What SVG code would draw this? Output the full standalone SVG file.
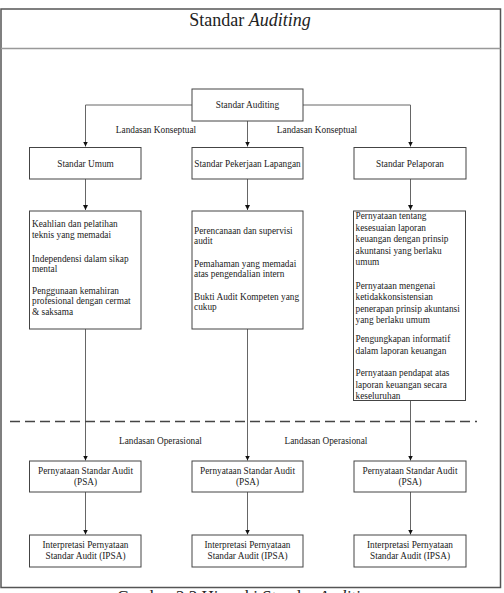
<svg xmlns="http://www.w3.org/2000/svg" width="504" height="593" viewBox="0 0 504 593">
<defs>
<style>
text{font-family:'Liberation Serif','Times New Roman',serif;fill:#222;}
.t{font-size:9.3px;}
.c{text-anchor:middle;}
.box{fill:#fff;stroke:#444;stroke-width:1;}
.ln{fill:none;stroke:#666;stroke-width:1;}
</style>
<marker id="ah" markerUnits="userSpaceOnUse" markerWidth="6" markerHeight="6" refX="5" refY="3" orient="auto">
<path d="M0,0.5 L5,3 L0,5.5 Z" fill="#111"/>
</marker>
</defs>
<rect x="0" y="0" width="504" height="593" fill="#fff"/>
<g font-family="Liberation Serif">
<g id="frame">
<rect x="1" y="9" width="499.5" height="578.5" fill="none" stroke="#555" stroke-width="1.5"/>
<line x1="1" y1="48.5" x2="500.5" y2="48.5" stroke="#999" stroke-width="1.5"/>
<text x="250" y="26" class="c" style="font-family:'Liberation Serif',serif;font-size:18px">Standar <tspan font-style="italic">Auditing</tspan></text>
</g>
<g id="connectors">
<polyline class="ln" points="192,105 85.5,105 85.5,146.5" marker-end="url(#ah)"/>
<polyline class="ln" points="303,105 410.5,105 410.5,146.5" marker-end="url(#ah)"/>
<line class="ln" x1="247.5" y1="121" x2="247.5" y2="146.5" marker-end="url(#ah)"/>
<line class="ln" x1="85.5" y1="179" x2="85.5" y2="210" marker-end="url(#ah)"/>
<line class="ln" x1="247.5" y1="179" x2="247.5" y2="210" marker-end="url(#ah)"/>
<line class="ln" x1="410.5" y1="179" x2="410.5" y2="210" marker-end="url(#ah)"/>
<line class="ln" x1="85.5" y1="329" x2="85.5" y2="460.5" marker-end="url(#ah)"/>
<line class="ln" x1="247.5" y1="329" x2="247.5" y2="460.5" marker-end="url(#ah)"/>
<line class="ln" x1="410.5" y1="400.5" x2="410.5" y2="460.5" marker-end="url(#ah)"/>
<line class="ln" x1="85.5" y1="492" x2="85.5" y2="534.5" marker-end="url(#ah)"/>
<line class="ln" x1="247.5" y1="492" x2="247.5" y2="534.5" marker-end="url(#ah)"/>
<line class="ln" x1="410.5" y1="492" x2="410.5" y2="534.5" marker-end="url(#ah)"/>
<line x1="10" y1="421.5" x2="477" y2="421.5" stroke="#444" stroke-width="1.3" stroke-dasharray="10,5"/>
<text x="156" y="133" class="t c">Landasan Konseptual</text>
<text x="317" y="133" class="t c">Landasan Konseptual</text>
<text x="160.5" y="444" class="t c">Landasan Operasional</text>
<text x="326" y="444" class="t c">Landasan Operasional</text>
</g>
<g id="root">
<rect class="box" x="192" y="89" width="111" height="32"/>
<text x="247.5" y="108" class="t c">Standar Auditing</text>
</g>
<g id="umum">
<rect class="box" x="29.5" y="147.5" width="111.5" height="31.5"/>
<text x="85.5" y="166.5" class="t c">Standar Umum</text>
</g>
<g id="lapangan">
<rect class="box" x="192" y="147.5" width="111" height="31.5"/>
<text x="247.5" y="166.5" class="t c">Standar Pekerjaan Lapangan</text>
</g>
<g id="pelaporan">
<rect class="box" x="354" y="147.5" width="112" height="31.5"/>
<text x="410" y="166.5" class="t c">Standar Pelaporan</text>
</g>
<g id="umum-detail">
<rect class="box" x="29.5" y="211" width="111.5" height="118"/>
<text class="t" x="32" y="227">Keahlian dan pelatihan</text>
<text class="t" x="32" y="237.8">teknis yang memadai</text>
<text class="t" x="32" y="261.5">Independensi dalam sikap</text>
<text class="t" x="32" y="272.3">mental</text>
<text class="t" x="32" y="293.5">Penggunaan kemahiran</text>
<text class="t" x="32" y="304.3">profesional dengan cermat</text>
<text class="t" x="32" y="315.1">&amp; saksama</text>
</g>
<g id="lapangan-detail">
<rect class="box" x="192" y="211" width="111" height="118"/>
<text class="t" x="194" y="233.5">Perencanaan dan supervisi</text>
<text class="t" x="194" y="244.3">audit</text>
<text class="t" x="194" y="266.5">Pemahaman yang memadai</text>
<text class="t" x="194" y="277.3">atas pengendalian intern</text>
<text class="t" x="194" y="299.5">Bukti Audit Kompeten yang</text>
<text class="t" x="194" y="310.3">cukup</text>
</g>
<g id="pelaporan-detail">
<rect class="box" x="353.5" y="211" width="112" height="189.5"/>
<text class="t" x="355.5" y="219">Pernyataan tentang</text>
<text class="t" x="355.5" y="230.5">kesesuaian laporan</text>
<text class="t" x="355.5" y="242">keuangan dengan prinsip</text>
<text class="t" x="355.5" y="253.5">akuntansi yang berlaku</text>
<text class="t" x="355.5" y="265">umum</text>
<text class="t" x="355.5" y="288.5">Pernyataan mengenai</text>
<text class="t" x="355.5" y="300">ketidakkonsistensian</text>
<text class="t" x="355.5" y="311.5">penerapan prinsip akuntansi</text>
<text class="t" x="355.5" y="323">yang berlaku umum</text>
<text class="t" x="355.5" y="342">Pengungkapan informatif</text>
<text class="t" x="355.5" y="353.5">dalam laporan keuangan</text>
<text class="t" x="355.5" y="376">Pernyataan pendapat atas</text>
<text class="t" x="355.5" y="387.5">laporan keuangan secara</text>
<text class="t" x="355.5" y="399">keseluruhan</text>
</g>
<g id="psa1">
<rect class="box" x="29.5" y="461" width="111.5" height="31"/>
<text x="85.5" y="474" class="t c">Pernyataan Standar Audit</text>
<text x="85.5" y="485" class="t c">(PSA)</text>
</g>
<g id="psa2">
<rect class="box" x="192" y="461" width="111" height="31"/>
<text x="247.5" y="474" class="t c">Pernyataan Standar Audit</text>
<text x="247.5" y="485" class="t c">(PSA)</text>
</g>
<g id="psa3">
<rect class="box" x="354" y="461" width="112" height="31"/>
<text x="410" y="474" class="t c">Pernyataan Standar Audit</text>
<text x="410" y="485" class="t c">(PSA)</text>
</g>
<g id="ipsa1">
<rect class="box" x="29.5" y="535" width="111.5" height="32"/>
<text x="85.5" y="547.5" class="t c">Interpretasi Pernyataan</text>
<text x="85.5" y="558.5" class="t c">Standar Audit (IPSA)</text>
</g>
<g id="ipsa2">
<rect class="box" x="192" y="535" width="111" height="32"/>
<text x="247.5" y="547.5" class="t c">Interpretasi Pernyataan</text>
<text x="247.5" y="558.5" class="t c">Standar Audit (IPSA)</text>
</g>
<g id="ipsa3">
<rect class="box" x="354" y="535" width="112" height="32"/>
<text x="410" y="547.5" class="t c">Interpretasi Pernyataan</text>
<text x="410" y="558.5" class="t c">Standar Audit (IPSA)</text>
</g>
<g id="caption">
<text x="247" y="602" class="c" style="font-family:'Liberation Serif',serif;font-size:17px">Gambar 2.3 Hierarki Standar <tspan font-style="italic">Auditing</tspan></text>
</g>
</g>
</svg>
